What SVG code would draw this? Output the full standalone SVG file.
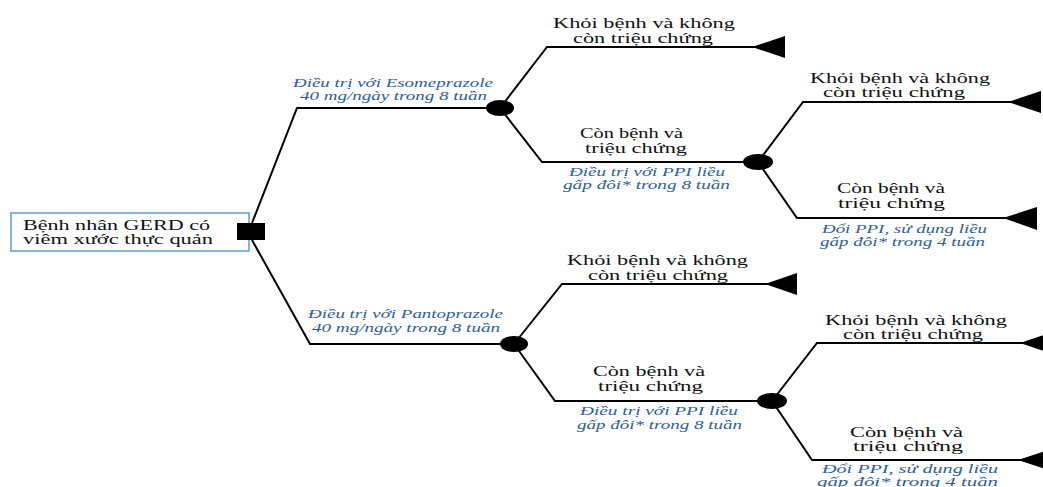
<svg xmlns="http://www.w3.org/2000/svg" width="1043" height="487" viewBox="0 0 1043 487">
  <style>
    text { font-family: 'Liberation Serif', 'DejaVu Serif', serif; }
    .lbl { font-size: 15px; fill: #111; }
    .act { font-size: 12px; font-style: italic; fill: #2e6096; }
    .edge { fill: none; stroke: #000; stroke-width: 2; stroke-linejoin: miter; }
    .chance { fill: #000; }
    .term { fill: #000; }
  </style>
  <rect width="1043" height="487" fill="#fff"/>

  <!-- branch lines -->
  <g id="connectors">
    <path class="edge" d="M252,223 L297,108 L500,108"/>
    <path class="edge" d="M252,240 L310,344 L514,344"/>
    <path class="edge" d="M500,108 L547,47 L760,47"/>
    <path class="edge" d="M500,108 L542,162 L758,162"/>
    <path class="edge" d="M758,162 L803,102 L1015,102"/>
    <path class="edge" d="M758,162 L797,218 L1010,218"/>
    <path class="edge" d="M514,344 L562,284 L770,284"/>
    <path class="edge" d="M514,344 L555,401 L772,401"/>
    <path class="edge" d="M772,401 L817,343 L1030,343"/>
    <path class="edge" d="M772,401 L812,460 L1030,460"/>
  </g>

  <!-- root: patient -->
  <g id="root">
    <rect x="11" y="213" width="238" height="38" fill="#fff" stroke="#5b9bd5" stroke-width="1.5"/>
    <text class="lbl" x="23" y="230" textLength="187" lengthAdjust="spacingAndGlyphs">Bệnh nhân GERD có</text>
    <text class="lbl" x="23" y="244" textLength="190" lengthAdjust="spacingAndGlyphs">viêm xước thực quản</text>
  </g>

  <!-- decision node -->
  <g id="decision">
    <rect x="237" y="223" width="28" height="17" fill="#000"/>
  </g>

  <!-- treatment arms -->
  <g id="arm-esomeprazole">
    <text class="act" x="293" y="87" textLength="200" lengthAdjust="spacingAndGlyphs">Điều trị với Esomeprazole</text>
    <text class="act" x="300" y="100" textLength="187" lengthAdjust="spacingAndGlyphs">40 mg/ngày trong 8 tuần</text>
  </g>
  <g id="arm-pantoprazole">
    <text class="act" x="308" y="318" textLength="195" lengthAdjust="spacingAndGlyphs">Điều trị với Pantoprazole</text>
    <text class="act" x="312" y="332" textLength="188" lengthAdjust="spacingAndGlyphs">40 mg/ngày trong 8 tuần</text>
  </g>

  <!-- chance nodes -->
  <g id="chance-1"><ellipse class="chance" cx="500" cy="108" rx="14" ry="8"/></g>
  <g id="chance-2"><ellipse class="chance" cx="758" cy="162" rx="15" ry="8"/></g>
  <g id="chance-3"><ellipse class="chance" cx="514" cy="344" rx="14" ry="8"/></g>
  <g id="chance-4"><ellipse class="chance" cx="772" cy="401" rx="15" ry="8"/></g>

  <!-- outcomes, upper arm -->
  <g id="out-1">
    <text class="lbl" x="553" y="28" textLength="182" lengthAdjust="spacingAndGlyphs">Khỏi bệnh và không</text>
    <text class="lbl" x="573" y="43" textLength="140" lengthAdjust="spacingAndGlyphs">còn triệu chứng</text>
    <polygon class="term" points="752,47 785,36 785,58"/>
  </g>
  <g id="out-2">
    <text class="lbl" x="580" y="138" textLength="103" lengthAdjust="spacingAndGlyphs">Còn bệnh và</text>
    <text class="lbl" x="585" y="153" textLength="102" lengthAdjust="spacingAndGlyphs">triệu chứng</text>
    <text class="act" x="569" y="176" textLength="156" lengthAdjust="spacingAndGlyphs">Điều trị với PPI liều</text>
    <text class="act" x="563" y="189" textLength="167" lengthAdjust="spacingAndGlyphs">gấp đôi* trong 8 tuần</text>
  </g>
  <g id="out-3">
    <text class="lbl" x="810" y="83" textLength="180" lengthAdjust="spacingAndGlyphs">Khỏi bệnh và không</text>
    <text class="lbl" x="823" y="97" textLength="142" lengthAdjust="spacingAndGlyphs">còn triệu chứng</text>
    <polygon class="term" points="1008,102 1041,91 1041,113"/>
  </g>
  <g id="out-4">
    <text class="lbl" x="837" y="193" textLength="108" lengthAdjust="spacingAndGlyphs">Còn bệnh và</text>
    <text class="lbl" x="838" y="208" textLength="107" lengthAdjust="spacingAndGlyphs">triệu chứng</text>
    <text class="act" x="822" y="233" textLength="165" lengthAdjust="spacingAndGlyphs">Đổi PPI, sử dụng liều</text>
    <text class="act" x="820" y="246" textLength="165" lengthAdjust="spacingAndGlyphs">gấp đôi* trong 4 tuần</text>
    <polygon class="term" points="1003,218 1037,207 1037,230"/>
  </g>

  <!-- outcomes, lower arm -->
  <g id="out-5">
    <text class="lbl" x="567" y="265" textLength="181" lengthAdjust="spacingAndGlyphs">Khỏi bệnh và không</text>
    <text class="lbl" x="588" y="280" textLength="140" lengthAdjust="spacingAndGlyphs">còn triệu chứng</text>
    <polygon class="term" points="765,284 797,273 797,295"/>
  </g>
  <g id="out-6">
    <text class="lbl" x="593" y="376" textLength="112" lengthAdjust="spacingAndGlyphs">Còn bệnh và</text>
    <text class="lbl" x="598" y="391" textLength="105" lengthAdjust="spacingAndGlyphs">triệu chứng</text>
    <text class="act" x="580" y="415" textLength="158" lengthAdjust="spacingAndGlyphs">Điều trị với PPI liều</text>
    <text class="act" x="577" y="429" textLength="165" lengthAdjust="spacingAndGlyphs">gấp đôi* trong 8 tuần</text>
  </g>
  <g id="out-7">
    <text class="lbl" x="825" y="325" textLength="182" lengthAdjust="spacingAndGlyphs">Khỏi bệnh và không</text>
    <text class="lbl" x="843" y="339" textLength="140" lengthAdjust="spacingAndGlyphs">còn triệu chứng</text>
    <polygon class="term" points="1020,343 1053,332 1053,354"/>
  </g>
  <g id="out-8">
    <text class="lbl" x="850" y="437" textLength="113" lengthAdjust="spacingAndGlyphs">Còn bệnh và</text>
    <text class="lbl" x="853" y="451" textLength="110" lengthAdjust="spacingAndGlyphs">triệu chứng</text>
    <text class="act" x="822" y="473" textLength="176" lengthAdjust="spacingAndGlyphs">Đổi PPI, sử dụng liều</text>
    <text class="act" x="817" y="486" textLength="181" lengthAdjust="spacingAndGlyphs">gấp đôi* trong 4 tuần</text>
    <polygon class="term" points="1018,460 1051,449 1051,471"/>
  </g>
</svg>
